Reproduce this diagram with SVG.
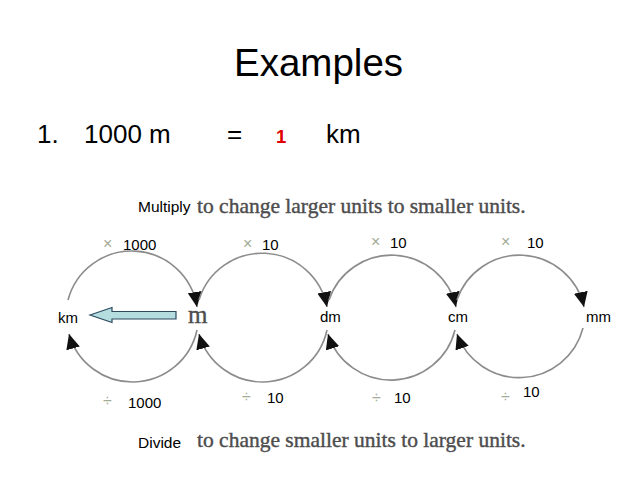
<svg xmlns="http://www.w3.org/2000/svg" width="638" height="479" viewBox="0 0 638 479">
<style>
.sans{font-family:"Liberation Sans",Arial,sans-serif;fill:#000}
.serif{font-family:"Liberation Serif","Times New Roman",serif;fill:#4d4d4d;stroke:#4d4d4d;stroke-width:0.4}
.op{font-family:"Liberation Sans",Arial,sans-serif;fill:#a3ab96;font-size:16px}
.num{font-family:"Liberation Sans",Arial,sans-serif;fill:#000;font-size:15px}
.unit{font-family:"Liberation Sans",Arial,sans-serif;fill:#000;font-size:15px}
.arc{fill:none;stroke:#8c8c8c;stroke-width:1.6}
</style>
<defs>
<marker id="ah" markerUnits="userSpaceOnUse" markerWidth="18" markerHeight="16" refX="15" refY="7" orient="auto">
<path d="M0,0 L15,7 L0,14 z" fill="#111"/>
</marker>
</defs>
<rect width="638" height="479" fill="#fff"/>
<g id="title"><text class="sans" x="234" y="76" font-size="38.5">Examples</text></g>
<g id="example">
<text class="sans" x="37" y="143" font-size="26">1.</text>
<text class="sans" x="84" y="143" font-size="26">1000 m</text>
<text class="sans" x="227" y="143" font-size="26">=</text>
<text class="sans" x="276" y="143" font-size="18.5" font-weight="bold" style="fill:#e00000">1</text>
<text class="sans" x="326" y="143" font-size="26">km</text>
</g>
<g id="multiply">
<text class="sans" x="138" y="212" font-size="15.5">Multiply</text>
<text class="serif" x="197" y="213" font-size="21.5">to change larger units to smaller units.</text>
</g>
<g id="divide">
<text class="sans" x="138" y="448" font-size="15.5">Divide</text>
<text class="serif" x="197" y="447" font-size="21.5">to change smaller units to larger units.</text>
</g>
<g id="connectors">
<path class="arc" d="M68,300 A66,66 0 0 1 197,307" marker-end="url(#ah)"/>
<path class="arc" d="M199,300 A66,66 0 0 1 327,307" marker-end="url(#ah)"/>
<path class="arc" d="M329,300 A66,66 0 0 1 456,307" marker-end="url(#ah)"/>
<path class="arc" d="M457,300 A66,66 0 0 1 584,307" marker-end="url(#ah)"/>
<path class="arc" d="M197,330 A66,66 0 0 1 69,334" marker-end="url(#ah)"/>
<path class="arc" d="M327,330 A66,66 0 0 1 199,334" marker-end="url(#ah)"/>
<path class="arc" d="M455,330 A66,66 0 0 1 328,334" marker-end="url(#ah)"/>
<path class="arc" d="M583,328 A66,66 0 0 1 457,334" marker-end="url(#ah)"/>
<polygon points="90,315 112,307.5 112,311.5 176,311.5 176,319 112,319 112,322.5" fill="#b5dde0" stroke="#2b4a5e" stroke-width="1.2"/>
</g>
<g id="labels-top">
<text class="op" x="103" y="249">×</text><text class="num" x="123" y="250">1000</text>
<text class="op" x="243" y="249">×</text><text class="num" x="262" y="250">10</text>
<text class="op" x="371" y="247">×</text><text class="num" x="390" y="248">10</text>
<text class="op" x="501" y="247">×</text><text class="num" x="527" y="248">10</text>
</g>
<g id="labels-bottom">
<text class="op" x="103" y="406">÷</text><text class="num" x="128" y="408">1000</text>
<text class="op" x="242" y="402">÷</text><text class="num" x="267" y="403">10</text>
<text class="op" x="372" y="403">÷</text><text class="num" x="394" y="403">10</text>
<text class="op" x="501" y="402">÷</text><text class="num" x="523" y="397">10</text>
</g>
<g id="km"><text class="unit" x="58" y="323">km</text></g>
<g id="m"><text class="serif" x="188" y="323" font-size="25">m</text></g>
<g id="dm"><text class="unit" x="320" y="322">dm</text></g>
<g id="cm"><text class="unit" x="448" y="322">cm</text></g>
<g id="mm"><text class="unit" x="586" y="322">mm</text></g>
</svg>
